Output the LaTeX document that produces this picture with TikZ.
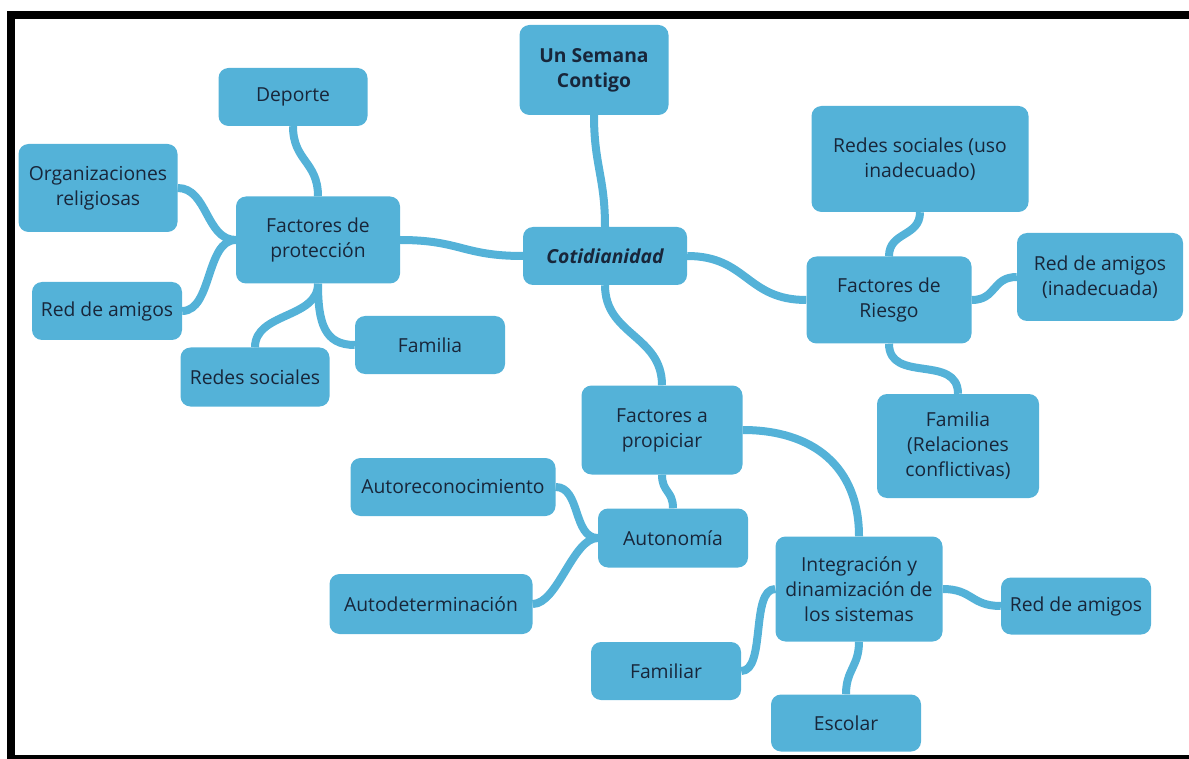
\documentclass[tikz,border=0pt]{standalone}
\usepackage{fontspec}
\setmainfont{Open Sans}
\definecolor{cajaazul}{RGB}{84,178,216}
\definecolor{letra}{RGB}{24,38,58}
\begin{document}
\begin{tikzpicture}[x=1pt,y=-1pt,line join=round,
    tema/.style={fill=cajaazul,rounded corners=10,align=center,inner sep=0,
      text=letra,font=\fontsize{19.3}{25}\selectfont},
    rama/.style={draw=cajaazul,line width=8}]
  \useasboundingbox (0,0) rectangle (1189,759);
  % marco
  \fill[black] (7,11) rectangle (15,759);
  \fill[black] (7,11) rectangle (1189,19);
  \fill[black] (7,755) rectangle (1189,759);

  \node[tema,minimum width=149,minimum height=90] (semana) at (594,70) {\bfseries Un Semana\\\bfseries Contigo};
  \node[tema,minimum width=164,minimum height=58] (cotid) at (605,256) {\bfseries\itshape Cotidianidad};

  \node[tema,minimum width=164,minimum height=87] (prot) at (318,240) {Factores de\\protección};
  \node[tema,minimum width=149,minimum height=58] (deporte) at (293,97) {Deporte};
  \node[tema,minimum width=159,minimum height=88] (organiz) at (98,188) {Organizaciones\\religiosas};
  \node[tema,minimum width=150,minimum height=58] (redizq) at (107,311) {Red de amigos};
  \node[tema,minimum width=149,minimum height=59] (redes) at (255,377) {Redes sociales};
  \node[tema,minimum width=150,minimum height=58] (familia) at (430,345) {Familia};

  \node[tema,minimum width=165,minimum height=87] (riesgo) at (889,300) {Factores de\\Riesgo};
  \node[tema,minimum width=217,minimum height=106] (redesuso) at (920,159) {Redes sociales (uso\\inadecuado)};
  \node[tema,minimum width=166,minimum height=88] (redinad) at (1100,277) {Red de amigos\\(inadecuada)};
  \node[tema,minimum width=162,minimum height=104] (famconf) at (958,446) {Familia\\(Relaciones\\conflictivas)};

  \node[tema,minimum width=161,minimum height=89] (propic) at (662,430) {Factores a\\propiciar};
  \node[tema,minimum width=150,minimum height=59] (autonom) at (673,538) {Autonomía};
  \node[tema,minimum width=205,minimum height=58] (autorec) at (453,487) {Autoreconocimiento};
  \node[tema,minimum width=203,minimum height=60] (autodet) at (431,604) {Autodeterminación};
  \node[tema,minimum width=167,minimum height=105] (integ) at (859,589) {Integración y\\dinamización de\\los sistemas};
  \node[tema,minimum width=150,minimum height=58] (familiar) at (666,671) {Familiar};
  \node[tema,minimum width=150,minimum height=57] (redder) at (1076,606) {Red de amigos};
  \node[tema,minimum width=150,minimum height=57] (escolar) at (846,723) {Escolar};

  \draw[rama] (cotid.north) .. controls +(0,-50) and +(0,50) .. (semana.south);
  \draw[rama] (cotid.west) .. controls +(-60,0) and +(60,0) .. (prot.east);
  \draw[rama] (cotid.east) .. controls +(60,0) and +(-60,0) .. (riesgo.west);
  \draw[rama] (cotid.south) .. controls +(0,50) and +(0,-50) .. (propic.north);

  \draw[rama] (prot.north) .. controls +(0,-35) and +(0,35) .. (deporte.south);
  \draw[rama] (prot.west) .. controls +(-30,0) and +(30,0) .. (organiz.east);
  \draw[rama] (prot.west) .. controls +(-30,0) and +(30,0) .. (redizq.east);
  \draw[rama] (prot.south) .. controls +(0,35) and +(0,-35) .. (redes.north);
  \draw[rama] (prot.south) .. controls +(0,40) and +(-30,0) .. (familia.west);

  \draw[rama] (riesgo.north) .. controls +(0,-25) and +(0,25) .. (redesuso.south);
  \draw[rama] (riesgo.east) .. controls +(25,0) and +(-25,0) .. (redinad.west);
  \draw[rama] (riesgo.south) .. controls +(0,40) and +(0,-40) .. (famconf.north);

  \draw[rama] (propic.east) .. controls +(70,0) and +(0,-70) .. (integ.north);
  \draw[rama] (propic.south) .. controls +(0,18) and +(0,-18) .. (autonom.north);
  \draw[rama] (autonom.west) .. controls +(-25,0) and +(25,0) .. (autorec.east);
  \draw[rama] (autonom.west) .. controls +(-25,0) and +(25,0) .. (autodet.east);
  \draw[rama] (integ.west) .. controls +(-25,0) and +(25,0) .. (familiar.east);
  \draw[rama] (integ.east) .. controls +(30,0) and +(-30,0) .. (redder.west);
  \draw[rama] (integ.south) .. controls +(0,25) and +(0,-25) .. (escolar.north);
\end{tikzpicture}
\end{document}
